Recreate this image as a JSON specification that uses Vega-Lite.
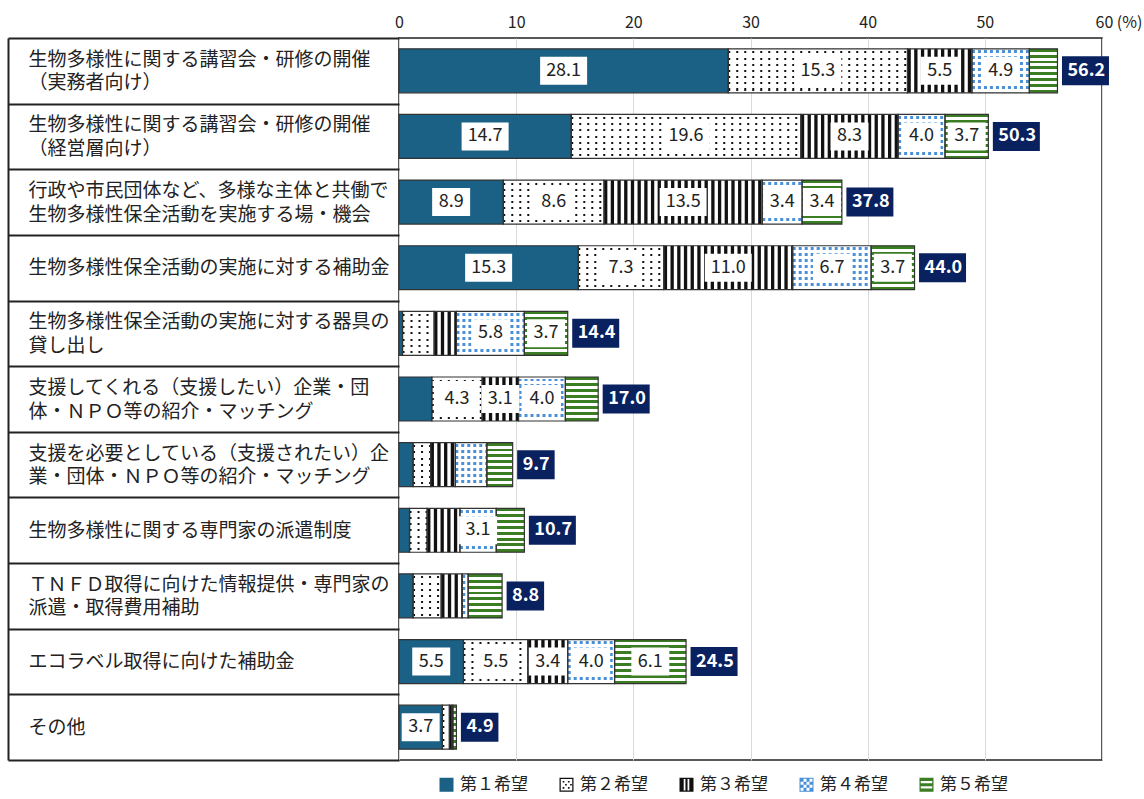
{
  "$schema": "https://vega.github.io/schema/vega-lite/v6.json",
  "width": 703,
  "height": 722,
  "autosize": {"type": "none"},
  "padding": {"left": 399, "top": 38, "right": 42, "bottom": 39},
  "background": "white",
  "config": {
    "font": "Noto Sans CJK JP",
    "view": {"stroke": "#222", "strokeWidth": 1.5},
    "axisX": {"title": null}
  },
  "data": {
    "values": [
      {"c": "生物多様性に関する講習会・研修の開催|（実務者向け）", "g": "第１希望", "s": 1, "v": 28.1},
      {"c": "生物多様性に関する講習会・研修の開催|（実務者向け）", "g": "第２希望", "s": 2, "v": 15.3},
      {"c": "生物多様性に関する講習会・研修の開催|（実務者向け）", "g": "第３希望", "s": 3, "v": 5.5},
      {"c": "生物多様性に関する講習会・研修の開催|（実務者向け）", "g": "第４希望", "s": 4, "v": 4.9},
      {"c": "生物多様性に関する講習会・研修の開催|（実務者向け）", "g": "第５希望", "s": 5, "v": 2.4},
      {"c": "生物多様性に関する講習会・研修の開催|（経営層向け）", "g": "第１希望", "s": 1, "v": 14.7},
      {"c": "生物多様性に関する講習会・研修の開催|（経営層向け）", "g": "第２希望", "s": 2, "v": 19.6},
      {"c": "生物多様性に関する講習会・研修の開催|（経営層向け）", "g": "第３希望", "s": 3, "v": 8.3},
      {"c": "生物多様性に関する講習会・研修の開催|（経営層向け）", "g": "第４希望", "s": 4, "v": 4.0},
      {"c": "生物多様性に関する講習会・研修の開催|（経営層向け）", "g": "第５希望", "s": 5, "v": 3.7},
      {"c": "行政や市民団体など、多様な主体と共働で|生物多様性保全活動を実施する場・機会", "g": "第１希望", "s": 1, "v": 8.9},
      {"c": "行政や市民団体など、多様な主体と共働で|生物多様性保全活動を実施する場・機会", "g": "第２希望", "s": 2, "v": 8.6},
      {"c": "行政や市民団体など、多様な主体と共働で|生物多様性保全活動を実施する場・機会", "g": "第３希望", "s": 3, "v": 13.5},
      {"c": "行政や市民団体など、多様な主体と共働で|生物多様性保全活動を実施する場・機会", "g": "第４希望", "s": 4, "v": 3.4},
      {"c": "行政や市民団体など、多様な主体と共働で|生物多様性保全活動を実施する場・機会", "g": "第５希望", "s": 5, "v": 3.4},
      {"c": "生物多様性保全活動の実施に対する補助金", "g": "第１希望", "s": 1, "v": 15.3},
      {"c": "生物多様性保全活動の実施に対する補助金", "g": "第２希望", "s": 2, "v": 7.3},
      {"c": "生物多様性保全活動の実施に対する補助金", "g": "第３希望", "s": 3, "v": 11.0},
      {"c": "生物多様性保全活動の実施に対する補助金", "g": "第４希望", "s": 4, "v": 6.7},
      {"c": "生物多様性保全活動の実施に対する補助金", "g": "第５希望", "s": 5, "v": 3.7},
      {"c": "生物多様性保全活動の実施に対する器具の|貸し出し", "g": "第１希望", "s": 1, "v": 0.3},
      {"c": "生物多様性保全活動の実施に対する器具の|貸し出し", "g": "第２希望", "s": 2, "v": 2.7},
      {"c": "生物多様性保全活動の実施に対する器具の|貸し出し", "g": "第３希望", "s": 3, "v": 1.9},
      {"c": "生物多様性保全活動の実施に対する器具の|貸し出し", "g": "第４希望", "s": 4, "v": 5.8},
      {"c": "生物多様性保全活動の実施に対する器具の|貸し出し", "g": "第５希望", "s": 5, "v": 3.7},
      {"c": "支援してくれる（支援したい）企業・団|体・ＮＰＯ等の紹介・マッチング", "g": "第１希望", "s": 1, "v": 2.8},
      {"c": "支援してくれる（支援したい）企業・団|体・ＮＰＯ等の紹介・マッチング", "g": "第２希望", "s": 2, "v": 4.3},
      {"c": "支援してくれる（支援したい）企業・団|体・ＮＰＯ等の紹介・マッチング", "g": "第３希望", "s": 3, "v": 3.1},
      {"c": "支援してくれる（支援したい）企業・団|体・ＮＰＯ等の紹介・マッチング", "g": "第４希望", "s": 4, "v": 4.0},
      {"c": "支援してくれる（支援したい）企業・団|体・ＮＰＯ等の紹介・マッチング", "g": "第５希望", "s": 5, "v": 2.8},
      {"c": "支援を必要としている（支援されたい）企|業・団体・ＮＰＯ等の紹介・マッチング", "g": "第１希望", "s": 1, "v": 1.2},
      {"c": "支援を必要としている（支援されたい）企|業・団体・ＮＰＯ等の紹介・マッチング", "g": "第２希望", "s": 2, "v": 1.5},
      {"c": "支援を必要としている（支援されたい）企|業・団体・ＮＰＯ等の紹介・マッチング", "g": "第３希望", "s": 3, "v": 2.1},
      {"c": "支援を必要としている（支援されたい）企|業・団体・ＮＰＯ等の紹介・マッチング", "g": "第４希望", "s": 4, "v": 2.7},
      {"c": "支援を必要としている（支援されたい）企|業・団体・ＮＰＯ等の紹介・マッチング", "g": "第５希望", "s": 5, "v": 2.2},
      {"c": "生物多様性に関する専門家の派遣制度", "g": "第１希望", "s": 1, "v": 0.9},
      {"c": "生物多様性に関する専門家の派遣制度", "g": "第２希望", "s": 2, "v": 1.5},
      {"c": "生物多様性に関する専門家の派遣制度", "g": "第３希望", "s": 3, "v": 2.8},
      {"c": "生物多様性に関する専門家の派遣制度", "g": "第４希望", "s": 4, "v": 3.1},
      {"c": "生物多様性に関する専門家の派遣制度", "g": "第５希望", "s": 5, "v": 2.4},
      {"c": "ＴＮＦＤ取得に向けた情報提供・専門家の|派遣・取得費用補助", "g": "第１希望", "s": 1, "v": 1.2},
      {"c": "ＴＮＦＤ取得に向けた情報提供・専門家の|派遣・取得費用補助", "g": "第２希望", "s": 2, "v": 2.4},
      {"c": "ＴＮＦＤ取得に向けた情報提供・専門家の|派遣・取得費用補助", "g": "第３希望", "s": 3, "v": 1.8},
      {"c": "ＴＮＦＤ取得に向けた情報提供・専門家の|派遣・取得費用補助", "g": "第４希望", "s": 4, "v": 0.5},
      {"c": "ＴＮＦＤ取得に向けた情報提供・専門家の|派遣・取得費用補助", "g": "第５希望", "s": 5, "v": 2.9},
      {"c": "エコラベル取得に向けた補助金", "g": "第１希望", "s": 1, "v": 5.5},
      {"c": "エコラベル取得に向けた補助金", "g": "第２希望", "s": 2, "v": 5.5},
      {"c": "エコラベル取得に向けた補助金", "g": "第３希望", "s": 3, "v": 3.4},
      {"c": "エコラベル取得に向けた補助金", "g": "第４希望", "s": 4, "v": 4.0},
      {"c": "エコラベル取得に向けた補助金", "g": "第５希望", "s": 5, "v": 6.1},
      {"c": "その他", "g": "第１希望", "s": 1, "v": 3.7},
      {"c": "その他", "g": "第２希望", "s": 2, "v": 0.6},
      {"c": "その他", "g": "第３希望", "s": 3, "v": 0.2},
      {"c": "その他", "g": "第４希望", "s": 4, "v": 0.1},
      {"c": "その他", "g": "第５希望", "s": 5, "v": 0.3}
    ]
  },
  "encoding": {
    "y": {
      "field": "c",
      "type": "nominal",
      "scale": {
        "domain": [
          "生物多様性に関する講習会・研修の開催|（実務者向け）",
          "生物多様性に関する講習会・研修の開催|（経営層向け）",
          "行政や市民団体など、多様な主体と共働で|生物多様性保全活動を実施する場・機会",
          "生物多様性保全活動の実施に対する補助金",
          "生物多様性保全活動の実施に対する器具の|貸し出し",
          "支援してくれる（支援したい）企業・団|体・ＮＰＯ等の紹介・マッチング",
          "支援を必要としている（支援されたい）企|業・団体・ＮＰＯ等の紹介・マッチング",
          "生物多様性に関する専門家の派遣制度",
          "ＴＮＦＤ取得に向けた情報提供・専門家の|派遣・取得費用補助",
          "エコラベル取得に向けた補助金",
          "その他"
        ],
        "paddingInner": 0,
        "paddingOuter": 0
      },
      "axis": {
        "title": null,
        "offset": 391,
        "domain": true,
        "domainColor": "#222",
        "domainWidth": 2,
        "ticks": true,
        "tickBand": "extent",
        "tickSize": -391,
        "tickColor": "#222",
        "tickWidth": 2,
        "grid": false,
        "labelAlign": "left",
        "labelBaseline": "middle",
        "labelPadding": 371,
        "labelLimit": 420,
        "labelFont": "Noto Sans CJK JP",
        "labelFontSize": 19,
        "labelColor": "#222",
        "labelLineHeight": 23.5,
        "labelOverlap": false,
        "labelOffset": {"condition": {"test": "indexof(datum.label, '|') >= 0", "value": -11.5}, "value": 0},
        "labelExpr": "split(datum.label, '|')"
      }
    }
  },
  "layer": [
    {
      "mark": {"type": "bar", "height": {"band": 0.67}, "stroke": null},
      "encoding": {
        "x": {
          "field": "v",
          "type": "quantitative",
          "stack": "zero",
          "scale": {"domain": [0, 60], "nice": false},
          "axis": {
            "orient": "top",
            "title": null,
            "values": [0, 10, 20, 30, 40, 50, 60],
            "grid": true,
            "gridColor": "#d9d9d9",
            "gridWidth": 1,
            "domain": false,
            "ticks": false,
            "labelFontSize": 16,
            "labelColor": "#222",
            "labelPadding": 8,
            "labelFlush": false,
            "labelExpr": "datum.value == 60 ? '60 (%)' : datum.label",
            "labelAlign": {"condition": {"test": "datum.value == 60", "value": "left"}, "value": "center"},
            "labelOffset": {"condition": {"test": "datum.value == 60", "value": -7}, "value": 0}
          }
        },
        "order": {"field": "s"},
        "fill": {"condition": {"test": "datum.s == 1", "value": "#1a6185"}, "value": "white"}
      }
    },
    {
      "transform": [
        {"stack": "v", "groupby": ["c"], "sort": [{"field": "s"}], "as": ["x0", "x1"]},
        {"filter": "datum.s == 2"}
      ],
      "mark": {"type": "rule", "stroke": "#111", "strokeWidth": 44, "strokeDash": [2, 6], "strokeCap": "butt"},
      "encoding": {
        "x": {"field": "x0", "type": "quantitative", "title": null},
        "x2": {"field": "x1"}
      }
    },
    {
      "transform": [
        {"stack": "v", "groupby": ["c"], "sort": [{"field": "s"}], "as": ["x0", "x1"]},
        {"filter": "datum.s == 2"}
      ],
      "mark": {
        "type": "bar",
        "height": {"band": 0.67},
        "fill": {
          "gradient": "linear", "x1": 0, "y1": 0, "x2": 0, "y2": 1,
          "stops": [
            {"offset": 0, "color": "white"}, {"offset": 0.057, "color": "white"},
            {"offset": 0.057, "color": "rgba(255,255,255,0)"}, {"offset": 0.102, "color": "rgba(255,255,255,0)"},
            {"offset": 0.102, "color": "white"}, {"offset": 0.198, "color": "white"},
            {"offset": 0.198, "color": "rgba(255,255,255,0)"}, {"offset": 0.243, "color": "rgba(255,255,255,0)"},
            {"offset": 0.243, "color": "white"}, {"offset": 0.339, "color": "white"},
            {"offset": 0.339, "color": "rgba(255,255,255,0)"}, {"offset": 0.384, "color": "rgba(255,255,255,0)"},
            {"offset": 0.384, "color": "white"}, {"offset": 0.48, "color": "white"},
            {"offset": 0.48, "color": "rgba(255,255,255,0)"}, {"offset": 0.525, "color": "rgba(255,255,255,0)"},
            {"offset": 0.525, "color": "white"}, {"offset": 0.62, "color": "white"},
            {"offset": 0.62, "color": "rgba(255,255,255,0)"}, {"offset": 0.666, "color": "rgba(255,255,255,0)"},
            {"offset": 0.666, "color": "white"}, {"offset": 0.761, "color": "white"},
            {"offset": 0.761, "color": "rgba(255,255,255,0)"}, {"offset": 0.807, "color": "rgba(255,255,255,0)"},
            {"offset": 0.807, "color": "white"}, {"offset": 0.902, "color": "white"},
            {"offset": 0.902, "color": "rgba(255,255,255,0)"}, {"offset": 0.948, "color": "rgba(255,255,255,0)"},
            {"offset": 0.948, "color": "white"}, {"offset": 1, "color": "white"}
          ]
        }
      },
      "encoding": {
        "x": {"field": "x0", "type": "quantitative", "title": null},
        "x2": {"field": "x1"}
      }
    },
    {
      "transform": [
        {"stack": "v", "groupby": ["c"], "sort": [{"field": "s"}], "as": ["x0", "x1"]},
        {"filter": "datum.s == 3"}
      ],
      "mark": {"type": "rule", "stroke": "#111", "strokeWidth": 44, "strokeDash": [3.3, 3.4], "strokeCap": "butt"},
      "encoding": {
        "x": {"field": "x0", "type": "quantitative", "title": null},
        "x2": {"field": "x1"}
      }
    },
    {
      "transform": [
        {"stack": "v", "groupby": ["c"], "sort": [{"field": "s"}], "as": ["x0", "x1"]},
        {"filter": "datum.s == 4"}
      ],
      "mark": {"type": "rule", "stroke": "#4a90d9", "strokeWidth": 44, "strokeDash": [3, 3], "strokeCap": "butt"},
      "encoding": {
        "x": {"field": "x0", "type": "quantitative", "title": null},
        "x2": {"field": "x1"}
      }
    },
    {
      "transform": [
        {"stack": "v", "groupby": ["c"], "sort": [{"field": "s"}], "as": ["x0", "x1"]},
        {"filter": "datum.s == 4"}
      ],
      "mark": {
        "type": "bar",
        "height": {"band": 0.67},
        "fill": {
          "gradient": "linear", "x1": 0, "y1": 0, "x2": 0, "y2": 1,
          "stops": [
            {"offset": 0, "color": "white"}, {"offset": 0.034, "color": "white"},
            {"offset": 0.034, "color": "rgba(255,255,255,0)"}, {"offset": 0.102, "color": "rgba(255,255,255,0)"},
            {"offset": 0.102, "color": "white"}, {"offset": 0.17, "color": "white"},
            {"offset": 0.17, "color": "rgba(255,255,255,0)"}, {"offset": 0.239, "color": "rgba(255,255,255,0)"},
            {"offset": 0.239, "color": "white"}, {"offset": 0.307, "color": "white"},
            {"offset": 0.307, "color": "rgba(255,255,255,0)"}, {"offset": 0.375, "color": "rgba(255,255,255,0)"},
            {"offset": 0.375, "color": "white"}, {"offset": 0.443, "color": "white"},
            {"offset": 0.443, "color": "rgba(255,255,255,0)"}, {"offset": 0.511, "color": "rgba(255,255,255,0)"},
            {"offset": 0.511, "color": "white"}, {"offset": 0.58, "color": "white"},
            {"offset": 0.58, "color": "rgba(255,255,255,0)"}, {"offset": 0.648, "color": "rgba(255,255,255,0)"},
            {"offset": 0.648, "color": "white"}, {"offset": 0.716, "color": "white"},
            {"offset": 0.716, "color": "rgba(255,255,255,0)"}, {"offset": 0.784, "color": "rgba(255,255,255,0)"},
            {"offset": 0.784, "color": "white"}, {"offset": 0.852, "color": "white"},
            {"offset": 0.852, "color": "rgba(255,255,255,0)"}, {"offset": 0.92, "color": "rgba(255,255,255,0)"},
            {"offset": 0.92, "color": "white"}, {"offset": 1, "color": "white"}
          ]
        }
      },
      "encoding": {
        "x": {"field": "x0", "type": "quantitative", "title": null},
        "x2": {"field": "x1"}
      }
    },
    {
      "transform": [
        {"stack": "v", "groupby": ["c"], "sort": [{"field": "s"}], "as": ["x0", "x1"]},
        {"filter": "datum.s == 5"}
      ],
      "mark": {
        "type": "bar",
        "height": {"band": 0.67},
        "fill": {
          "gradient": "linear", "x1": 0, "y1": 0, "x2": 0, "y2": 1,
          "stops": [
            {"offset": 0, "color": "#3a7d22"}, {"offset": 0.0667, "color": "#3a7d22"},
            {"offset": 0.0667, "color": "white"}, {"offset": 0.1333, "color": "white"},
            {"offset": 0.1333, "color": "#3a7d22"}, {"offset": 0.2, "color": "#3a7d22"},
            {"offset": 0.2, "color": "white"}, {"offset": 0.2667, "color": "white"},
            {"offset": 0.2667, "color": "#3a7d22"}, {"offset": 0.3333, "color": "#3a7d22"},
            {"offset": 0.3333, "color": "white"}, {"offset": 0.4, "color": "white"},
            {"offset": 0.4, "color": "#3a7d22"}, {"offset": 0.4667, "color": "#3a7d22"},
            {"offset": 0.4667, "color": "white"}, {"offset": 0.5333, "color": "white"},
            {"offset": 0.5333, "color": "#3a7d22"}, {"offset": 0.6, "color": "#3a7d22"},
            {"offset": 0.6, "color": "white"}, {"offset": 0.6667, "color": "white"},
            {"offset": 0.6667, "color": "#3a7d22"}, {"offset": 0.7333, "color": "#3a7d22"},
            {"offset": 0.7333, "color": "white"}, {"offset": 0.8, "color": "white"},
            {"offset": 0.8, "color": "#3a7d22"}, {"offset": 0.8667, "color": "#3a7d22"},
            {"offset": 0.8667, "color": "white"}, {"offset": 0.9333, "color": "white"},
            {"offset": 0.9333, "color": "#3a7d22"}, {"offset": 1, "color": "#3a7d22"}
          ]
        }
      },
      "encoding": {
        "x": {"field": "x0", "type": "quantitative", "title": null},
        "x2": {"field": "x1"}
      }
    },
    {
      "transform": [
        {"stack": "v", "groupby": ["c"], "sort": [{"field": "s"}], "as": ["x0", "x1"]}
      ],
      "mark": {"type": "bar", "height": {"band": 0.67}, "fill": "transparent", "stroke": "#333", "strokeWidth": 1.2},
      "encoding": {
        "x": {"field": "x0", "type": "quantitative", "title": null},
        "x2": {"field": "x1"}
      }
    },
    {
      "mark": {"type": "point", "filled": true, "strokeWidth": 0, "size": 0, "opacity": 1},
      "encoding": {
        "x": {"field": "v", "type": "quantitative", "stack": "zero", "bandPosition": 0.5, "title": null},
        "order": {"field": "s"},
        "fill": {
          "field": "g",
          "type": "nominal",
          "scale": {
            "domain": ["第１希望", "第２希望", "第３希望", "第４希望", "第５希望"],
            "range": ["#1a6185", "#111111", "#111111", "#4a90d9", "#3a7d22"]
          },
          "legend": {
            "title": null,
            "orient": "none",
            "legendX": 39,
            "legendY": 738,
            "direction": "horizontal",
            "columns": 5,
            "columnPadding": 30,
            "symbolSize": 196,
            "symbolOpacity": 1,
            "symbolStrokeWidth": 0,
            "labelFont": "Noto Sans CJK JP",
            "labelFontSize": 17,
            "labelColor": "#222",
            "labelOffset": 5
          }
        },
        "shape": {
          "field": "g",
          "type": "nominal",
          "scale": {
            "domain": ["第１希望", "第２希望", "第３希望", "第４希望", "第５希望"],
            "range": [
              "square",
              "M-1,-1H1V1H-1Z M-0.82,-0.82V0.82H0.82V-0.82Z M-0.55,-0.55h0.24v0.24h-0.24Z M0.2,-0.55h0.24v0.24h-0.24Z M-0.2,-0.12h0.24v0.24h-0.24Z M0.52,-0.12h0.24v0.24h-0.24Z M-0.55,0.32h0.24v0.24h-0.24Z M0.2,0.32h0.24v0.24h-0.24Z",
              "M-1,-1H1V-0.82H-1Z M-1,0.82H1V1H-1Z M-1,-1H-0.4V1H-1Z M-0.15,-1H0.15V1H-0.15Z M0.4,-1H1V1H0.4Z",
              "M-1,-1H1V1H-1Z M-0.85,-0.85V0.85H0.85V-0.85Z M-0.85,-0.85h0.425v0.425h-0.425Z M0,-0.85h0.425v0.425h-0.425Z M-0.425,-0.425h0.425v0.425h-0.425Z M0.425,-0.425h0.425v0.425h-0.425Z M-0.85,0h0.425v0.425h-0.425Z M0,0h0.425v0.425h-0.425Z M-0.425,0.425h0.425v0.425h-0.425Z M0.425,0.425h0.425v0.425h-0.425Z",
              "M-1,-1H1V-0.55H-1Z M-1,-0.2H1V0.2H-1Z M-1,0.55H1V1H-1Z M-1,-1H-0.82V1H-1Z M0.82,-1H1V1H0.82Z"
            ]
          }
        }
      }
    },
    {
      "mark": {"type": "point", "filled": true, "fill": "white", "strokeWidth": 0, "size": 100},
      "encoding": {
        "x": {"field": "v", "type": "quantitative", "stack": "zero", "bandPosition": 0.5, "title": null},
        "order": {"field": "s"},
        "detail": {"field": "s"},
        "shape": {"condition": {"test": "datum.v >= 10", "value": "M-4.7,-2.8H4.7V2.8H-4.7Z"}, "value": "M-3.8,-2.8H3.8V2.8H-3.8Z"},
        "opacity": {"condition": {"test": "datum.v >= 3", "value": 1}, "value": 0}
      }
    },
    {
      "mark": {"type": "text", "fill": "#222", "fontSize": 18, "font": "Noto Sans CJK JP", "baseline": "middle", "align": "center"},
      "encoding": {
        "x": {"field": "v", "type": "quantitative", "stack": "zero", "bandPosition": 0.5, "title": null},
        "order": {"field": "s"},
        "detail": {"field": "s"},
        "text": {"field": "v", "type": "quantitative", "format": ".1f"},
        "opacity": {"condition": {"test": "datum.v >= 3", "value": 1}, "value": 0}
      }
    },
    {
      "mark": {"type": "point", "filled": true, "fill": "#0a2160", "strokeWidth": 0, "size": 100, "opacity": 1},
      "encoding": {
        "x": {"aggregate": "sum", "field": "v", "type": "quantitative", "title": null},
        "shape": {"condition": {"test": "datum.sum_v >= 10", "value": "M0.9,-2.9H10.3V2.9H0.9Z"}, "value": "M0.9,-2.9H8.4V2.9H0.9Z"}
      }
    },
    {
      "mark": {"type": "text", "fill": "white", "fontWeight": "bold", "fontSize": 18, "font": "Noto Sans CJK JP", "align": "left", "baseline": "middle", "dx": 10},
      "encoding": {
        "x": {"aggregate": "sum", "field": "v", "type": "quantitative", "title": null},
        "text": {"aggregate": "sum", "field": "v", "type": "quantitative", "format": ".1f"}
      }
    }
  ]
}
